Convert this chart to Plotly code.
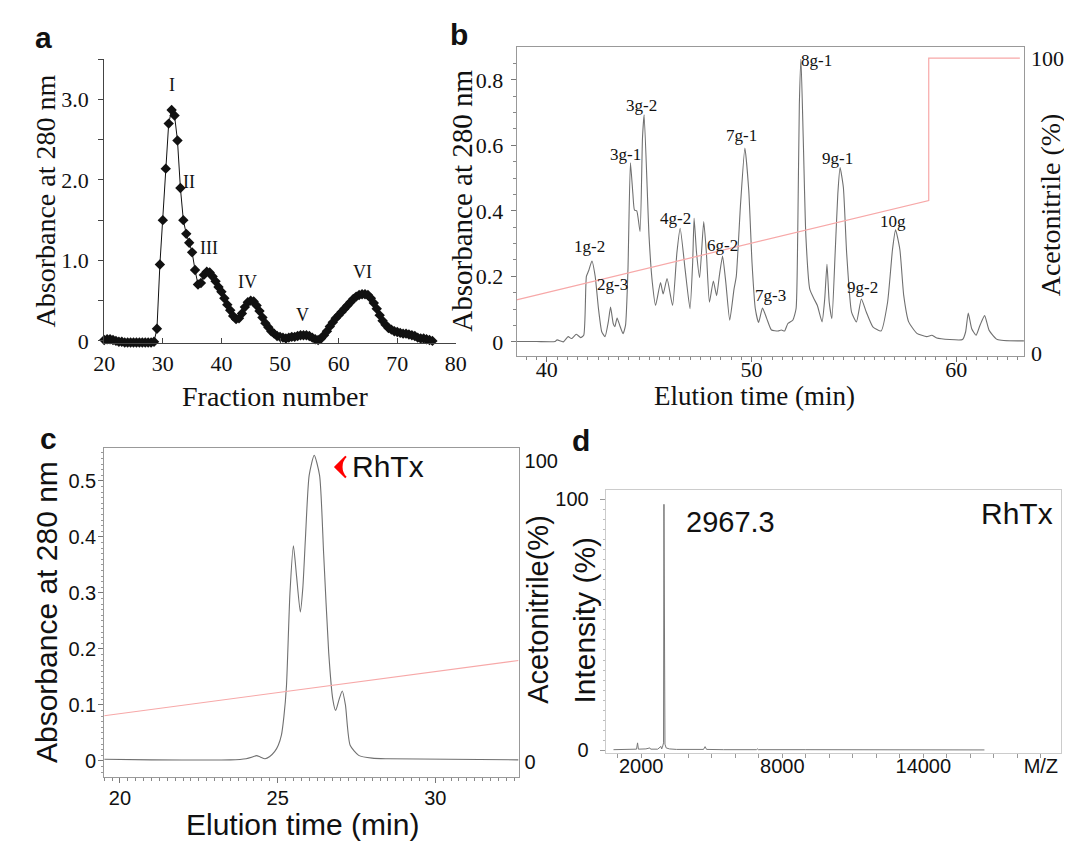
import plotly.graph_objects as go

W, H = 1072, 845
SERIF = "Liberation Serif"
SANS = "Liberation Sans"

# ---------------- data ----------------
# (a) gel filtration: fraction number vs absorbance
frac_a = [20.0, 20.5, 21.0, 21.5, 22.0, 22.5, 23.0, 23.5, 24.0, 24.5,
          25.0, 25.5, 26.0, 26.5, 27.0, 27.5, 28.0, 28.5, 29.0, 29.5,
          30.0, 30.5, 31.0, 31.5, 32.0, 32.5, 33.0, 33.5, 34.0, 34.5,
          35.0, 35.5, 36.0, 36.5, 37.0, 37.5, 38.0, 38.5, 39.0, 39.5,
          40.0, 40.5, 41.0, 41.5, 42.0, 42.5, 43.0, 43.5, 44.0, 44.5,
          45.0, 45.5, 46.0, 46.5, 47.0, 47.5, 48.0, 48.5, 49.0, 49.5,
          50.0, 50.5, 51.0, 51.5, 52.0, 52.5, 53.0, 53.5, 54.0, 54.5,
          55.0, 55.5, 56.0, 56.5, 57.0, 57.5, 58.0, 58.5, 59.0, 59.5,
          60.0, 60.5, 61.0, 61.5, 62.0, 62.5, 63.0, 63.5, 64.0, 64.5,
          65.0, 65.5, 66.0, 66.5, 67.0, 67.5, 68.0, 68.5, 69.0, 69.5,
          70.0, 70.5, 71.0, 71.5, 72.0, 72.5, 73.0, 73.5, 74.0, 74.5,
          75.0, 75.5, 76.0]
abs_a = [0.01, 0.02, 0.02, 0.01, 0.0, -0.01, -0.01, -0.02, -0.02, -0.02,
         -0.02, -0.02, -0.02, -0.02, -0.02, -0.02, -0.02, -0.01, 0.15, 0.95,
         1.5, 2.14, 2.7, 2.87, 2.8, 2.49, 1.9, 1.5, 1.33, 1.22,
         1.1, 0.88, 0.7, 0.72, 0.82, 0.86, 0.85, 0.8, 0.74, 0.67,
         0.61, 0.53, 0.45, 0.38, 0.31, 0.27, 0.28, 0.34, 0.42, 0.48,
         0.5, 0.49, 0.44, 0.37, 0.29, 0.22, 0.17, 0.12, 0.09, 0.06,
         0.05, 0.04, 0.03, 0.04, 0.05, 0.05, 0.06, 0.07, 0.07, 0.07,
         0.06, 0.04, 0.02, 0.01, 0.03, 0.07, 0.12, 0.18, 0.23, 0.28,
         0.32, 0.36, 0.4, 0.44, 0.48, 0.52, 0.55, 0.57, 0.58, 0.58,
         0.57, 0.53, 0.47, 0.4, 0.32, 0.25, 0.2, 0.16, 0.14, 0.12,
         0.11, 0.1, 0.09, 0.09, 0.08, 0.07, 0.06, 0.04, 0.03, 0.03,
         0.02, 0.01, 0.0]
peaks_a = ["I", "II", "III", "IV", "V", "VI"]
peaks_a_x = [31.5, 34.5, 37.8, 44.5, 53.9, 64.0]
peaks_a_y = [3.18, 1.98, 1.15, 0.73, 0.32, 0.85]

# (b) RP-HPLC of fractions
time_b = [38.52, 39.5, 40.4, 40.5, 40.8, 41.04, 41.2, 41.44, 41.65, 41.8,
          41.93, 42.04, 42.2, 42.36, 42.52, 42.68, 42.84, 43.0, 43.11, 43.24,
          43.32, 43.43, 43.56, 43.72, 43.84, 43.96, 44.08, 44.2, 44.28, 44.39,
          44.55, 44.67, 44.75, 44.99, 45.15, 45.31, 45.55, 45.68, 45.87, 46.14,
          46.35, 46.51, 46.75, 46.99, 47.12, 47.19, 47.31, 47.46, 47.66, 47.79,
          47.94, 48.13, 48.29, 48.42, 48.58, 48.74, 48.93, 49.14, 49.25, 49.46,
          49.67, 49.86, 50.02, 50.18, 50.34, 50.53, 50.74, 50.97, 51.29, 51.45,
          51.61, 51.77, 52.01, 52.17, 52.25, 52.33, 52.41, 52.52, 52.65, 52.84,
          53.05, 53.21, 53.44, 53.57, 53.68, 53.79, 53.92, 54.08, 54.21, 54.32,
          54.48, 54.64, 54.88, 55.12, 55.36, 55.6, 55.92, 56.32, 56.64, 56.88,
          57.03, 57.24, 57.43, 57.67, 58.07, 58.55, 58.8, 59.04, 60.3, 60.45,
          60.58, 60.75, 60.96, 61.15, 61.38, 61.6, 62.0, 63.3]
abs_b = [0.001, 0.001, 0.001, 0.006, 0.0, 0.016, 0.01, 0.023, 0.013, 0.02,
         0.2, 0.217, 0.247, 0.2, 0.101, 0.031, 0.016, 0.061, 0.106, 0.056,
         0.046, 0.073, 0.05, 0.025, 0.05, 0.22, 0.547, 0.452, 0.402, 0.4,
         0.337, 0.623, 0.693, 0.322, 0.181, 0.111, 0.181, 0.146, 0.193, 0.111,
         0.272, 0.347, 0.222, 0.101, 0.241, 0.377, 0.272, 0.196, 0.367, 0.272,
         0.121, 0.186, 0.141, 0.2, 0.262, 0.181, 0.066, 0.161, 0.2, 0.422,
         0.592, 0.462, 0.241, 0.101, 0.059, 0.103, 0.071, 0.036, 0.033, 0.036,
         0.033, 0.056, 0.066, 0.101, 0.322, 0.723, 0.863, 0.623, 0.322, 0.161,
         0.131, 0.111, 0.061, 0.131, 0.237, 0.121, 0.071, 0.272, 0.452, 0.532,
         0.472, 0.272, 0.091, 0.061, 0.131, 0.091, 0.046, 0.033, 0.121, 0.282,
         0.342, 0.282, 0.141, 0.061, 0.026, 0.016, 0.02, 0.012, 0.007, 0.03,
         0.088, 0.04, 0.02, 0.05, 0.08, 0.035, 0.007, 0.003]
grad_b_t = [38.52, 58.65, 58.65, 63.1]
grad_b_pct = [18.2, 51.8, 100, 100]
peaks_b = ["1g-2", "2g-3", "3g-1", "3g-2", "4g-2", "6g-2",
           "7g-1", "7g-3", "8g-1", "9g-1", "9g-2", "10g"]
peaks_b_x = [42.1, 43.2, 43.85, 44.6, 46.3, 48.56,
             49.5, 50.9, 53.17, 54.17, 55.4, 56.9]
peaks_b_y = [0.291, 0.176, 0.572, 0.723, 0.376, 0.293,
             0.629, 0.143, 0.858, 0.559, 0.166, 0.366]

# (c) RhTx purification
time_c = [19.5, 21.0, 23.5, 24.0, 24.2, 24.33, 24.45, 24.6, 24.75, 24.91,
          25.02, 25.12, 25.2, 25.28, 25.39, 25.5, 25.6, 25.72, 25.8, 25.88,
          26.0, 26.16, 26.33, 26.46, 26.62, 26.75, 26.84, 26.95, 27.05, 27.15,
          27.3, 27.57, 28.0, 28.5, 32.64]
abs_c = [0.003, 0.002, 0.002, 0.004, 0.007, 0.0095, 0.007, 0.004, 0.008, 0.017,
         0.028, 0.046, 0.08, 0.134, 0.299, 0.384, 0.33, 0.266, 0.31, 0.396,
         0.51, 0.546, 0.51, 0.369, 0.193, 0.11, 0.09, 0.11, 0.125, 0.1,
         0.028, 0.01, 0.005, 0.004, 0.002]
grad_c_t = [19.5, 32.64]
grad_c_pct = [15.3, 33.7]
mark_c = {"x": 26.83, "y": 0.525, "text_x": 27.3}

# (d) MALDI-TOF spectrum
mz_d = [820, 1500, 1800, 1844, 1880, 2200, 2366, 2400, 2700, 2840,
        2870, 2900, 2950, 2967, 2985, 3010, 3060, 3200, 3500, 4650,
        4717, 4780, 5500, 6900, 6940, 6980, 9000, 12000, 16600]
int_d = [0.3, 0.4, 0.5, 3.0, 0.5, 0.6, 1.0, 0.5, 0.5, 1.6,
         0.6, 1.2, 3.0, 98, 6.0, 2.5, 1.0, 0.6, 0.4, 0.4,
         1.5, 0.4, 0.3, 0.3, 0.6, 0.3, 0.3, 0.2, 0.2]
mz_ticks = [1000, 2000, 3000, 4000, 5000, 6000, 7000, 8000, 9000, 10000,
            11000, 12000, 13000, 14000, 15000, 16000, 17000, 18000, 19000]
mz_labels = ["", "2000", "", "", "", "", "", "8000", "", "",
             "", "", "", "14000", "", "", "", "", "M/Z"]


def xdom(l, r):
    return [l / W, r / W]


def ydom(t, b):
    return [1 - b / H, 1 - t / H]


fig = go.Figure()

fig.add_trace(go.Scatter(x=frac_a, y=abs_a, mode="lines+markers", xaxis="x", yaxis="y",
                         line=dict(color="#111", width=1),
                         marker=dict(symbol="diamond", size=8, color="#111"),
                         cliponaxis=False))
fig.add_trace(go.Scatter(x=grad_b_t, y=grad_b_pct, mode="lines", xaxis="x2", yaxis="y3",
                         line=dict(color="#f7a8a8", width=1.2)))
fig.add_trace(go.Scatter(x=time_b, y=abs_b, mode="lines", xaxis="x2", yaxis="y2",
                         line=dict(color="#707070", width=1.1, shape="spline", smoothing=0.5)))
fig.add_trace(go.Scatter(x=grad_c_t, y=grad_c_pct, mode="lines", xaxis="x4", yaxis="y5",
                         line=dict(color="#f7a8a8", width=1.2)))
fig.add_trace(go.Scatter(x=time_c, y=abs_c, mode="lines", xaxis="x4", yaxis="y4",
                         line=dict(color="#707070", width=1.1, shape="spline", smoothing=0.6)))
# red chevron pointing at the RhTx peak
fig.add_trace(go.Scatter(x=[mark_c["x"]], y=[mark_c["y"]], mode="markers", xaxis="x4", yaxis="y4",
                         marker=dict(symbol="arrow-wide", angle=-90, size=15, color="red",
                                     line=dict(color="red", width=2))))
fig.add_trace(go.Scatter(x=mz_d, y=int_d, mode="lines", xaxis="x6", yaxis="y6",
                         line=dict(color="#777", width=1)))

axis_common = dict(showgrid=False, zeroline=False, showline=True, ticks="outside",
                   ticklen=5, tickwidth=1)

fig.update_layout(
    width=W, height=H, margin=dict(l=0, r=0, t=0, b=0),
    paper_bgcolor="white", plot_bgcolor="white", showlegend=False,
    font=dict(family=SERIF, color="#111"),
    # panel a
    xaxis=dict(axis_common, domain=xdom(87, 446), range=[20, 80], anchor="y",
               tickvals=[20, 30, 40, 50, 60, 70, 80], ticks="inside", linecolor="#444",
               tickcolor="#444", tickfont=dict(family=SERIF, size=22), ticklabelstandoff=0),
    yaxis=dict(axis_common, domain=ydom(50, 338.5), range=[-0.03, 3.5], anchor="x",
               tickvals=[0, 0.5, 1, 1.5, 2, 2.5, 3, 3.5],
               ticktext=["0", "", "1.0", "", "2.0", "", "3.0", ""],
               linecolor="#444", tickcolor="#444", tickfont=dict(family=SERIF, size=22),
               ticklabelstandoff=5),
    # panel b
    xaxis2=dict(axis_common, domain=xdom(508, 1026), range=[38.52, 63.3], anchor="y2",
                tickvals=[40, 50, 60], mirror=True, linecolor="#999", tickcolor="#777",
                minor=dict(dtick=0.5, ticklen=3, tickcolor="#888", ticks="outside"),
                tickfont=dict(family=SERIF, size=22), ticklabelstandoff=-11),
    yaxis2=dict(axis_common, domain=ydom(38, 351), range=[-0.042, 0.899], anchor="x2",
                tickvals=[0, 0.2, 0.4, 0.6, 0.8], ticktext=["0", "0.2", "0.4", "0.6", "0.8"],
                mirror=True, linecolor="#999", tickcolor="#777",
                minor=dict(dtick=0.05, ticklen=3, tickcolor="#888", ticks="outside"),
                tickfont=dict(family=SERIF, size=22), ticklabelstandoff=3),
    yaxis3=dict(showgrid=False, zeroline=False, showline=False, overlaying="y2", side="right",
                anchor="x2", range=[-0.66, 103.6], tickvals=[0, 100], ticks="",
                tickfont=dict(family=SERIF, size=22), ticklabelstandoff=6),
    # panel c
    xaxis4=dict(axis_common, domain=xdom(87, 510), range=[19.5, 32.64], anchor="y4",
                tickvals=[20, 25, 30], mirror=True, linecolor="#999", tickcolor="#777",
                minor=dict(dtick=0.25, ticklen=3, tickcolor="#888", ticks="outside"),
                tickfont=dict(family=SANS, size=20), ticklabelstandoff=-2),
    yaxis4=dict(axis_common, domain=ydom(445, 779.3), range=[-0.0292, 0.5586], anchor="x4",
                tickvals=[0, 0.1, 0.2, 0.3, 0.4, 0.5],
                ticktext=["0", "0.1", "0.2", "0.3", "0.4", "0.5"],
                mirror=True, linecolor="#999", tickcolor="#777",
                minor=dict(dtick=0.01, ticklen=2, tickcolor="#999", ticks="outside"),
                tickfont=dict(family=SANS, size=20), ticklabelstandoff=-2),
    yaxis5=dict(showgrid=False, zeroline=False, showline=False, overlaying="y4", side="right",
                anchor="x4", range=[-5.2, 104.4], tickvals=[0, 100], ticks="",
                tickfont=dict(family=SANS, size=20), ticklabelstandoff=5),
    # panel d
    xaxis6=dict(axis_common, domain=xdom(599, 1064), range=[489, 19864], anchor="y6",
                tickvals=mz_ticks, ticktext=mz_labels, mirror=True, linecolor="#ccc",
                tickcolor="#999", ticklen=4, tickfont=dict(family=SANS, size=20),
                ticklabelstandoff=-9),
    yaxis6=dict(axis_common, domain=ydom(488, 755), range=[-1.18, 103.5], anchor="x6",
                tickvals=[0, 100], mirror=True, linecolor="#ccc", tickcolor="#999",
                minor=dict(dtick=4, ticklen=2, tickcolor="#bbb", ticks="outside"),
                tickfont=dict(family=SANS, size=20), ticklabelstandoff=7),
)

ann = []


def paper_text(text, px, py, size, family, angle=0, color="#111"):
    ann.append(dict(text=text, x=px / W, y=1 - py / H, xref="paper", yref="paper",
                    showarrow=False, xanchor="center", yanchor="middle", textangle=angle,
                    font=dict(family=family, size=size, color=color)))


# panel letters
paper_text("<b>a</b>", 25, 28, 30, SANS)
paper_text("<b>b</b>", 449, 25, 30, SANS)
paper_text("<b>c</b>", 30, 435, 30, SANS)
paper_text("<b>d</b>", 574, 437, 30, SANS)

# axis titles
paper_text("Fraction number", 262, 393, 28, SERIF)
paper_text("Absorbance at 280 nm", 27, 194, 28, SERIF, -90)
paper_text("Elution time (min)", 751, 392, 27, SERIF)
paper_text("Absorbance at 280 nm", 452, 194, 29, SERIF, -90)
paper_text("Acetonitrile (%)", 1054, 198, 28, SERIF, -90)
paper_text("Elution time (min)", 289, 827, 30, SANS)
paper_text("Absorbance at 280 nm", 28, 611, 30, SANS, -90)
paper_text("Acetonitrile(%)", 530, 609, 29, SANS, -90)
paper_text("Intensity (%)", 577, 620, 30, SANS, -90)

# peak labels
for t, x, y in zip(peaks_a, peaks_a_x, peaks_a_y):
    ann.append(dict(text=t, x=x, y=y, xref="x", yref="y", showarrow=False,
                    font=dict(family=SERIF, size=18, color="#111")))
for t, x, y in zip(peaks_b, peaks_b_x, peaks_b_y):
    ann.append(dict(text=t, x=x, y=y, xref="x2", yref="y2", showarrow=False,
                    font=dict(family=SERIF, size=17, color="#111")))

ann.append(dict(text="RhTx", x=mark_c["text_x"], y=mark_c["y"], xref="x4", yref="y4",
                showarrow=False, xanchor="left", font=dict(family=SANS, size=30, color="#111")))
ann.append(dict(text="2967.3", x=3800, y=91, xref="x6", yref="y6", showarrow=False,
                xanchor="left", font=dict(family=SANS, size=29, color="#111")))
ann.append(dict(text="RhTx", x=19620, y=94.5, xref="x6", yref="y6", showarrow=False,
                xanchor="right", font=dict(family=SANS, size=30, color="#111")))

fig.update_layout(annotations=ann)
fig.write_html("out.html")
